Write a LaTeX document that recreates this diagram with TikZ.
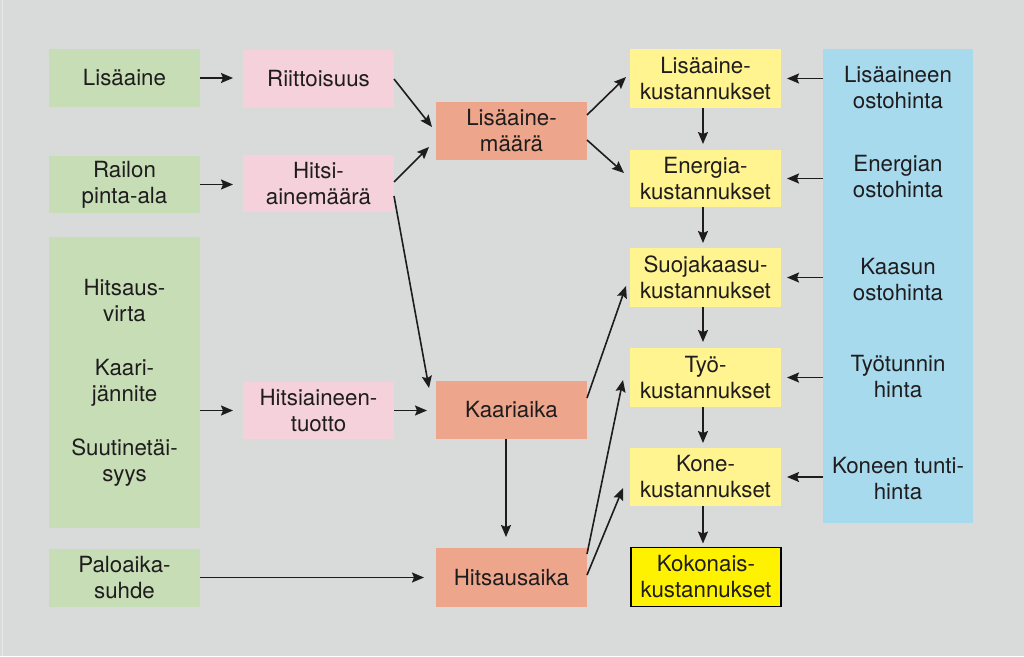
\documentclass[tikz,border=0pt]{standalone}
\usepackage{fontspec}
\setmainfont{TeX Gyre Heros}
\usetikzlibrary{arrows.meta}
\definecolor{bg}{HTML}{D9DBDA}
\definecolor{edge}{HTML}{E6E8E7}
\definecolor{grn}{HTML}{C6DDB6}
\definecolor{pnk}{HTML}{F5D1DC}
\definecolor{sal}{HTML}{EDA58B}
\definecolor{ylw}{HTML}{FFF48F}
\definecolor{ylwb}{HTML}{FFF200}
\definecolor{blu}{HTML}{A8DAEE}
\definecolor{txt}{HTML}{1E1C1D}
\tikzset{
  box/.style={inner sep=0pt, outer sep=0pt, align=center, text=txt,
    font=\fontsize{22.3}{26}\selectfont, minimum width=151pt},
  gbox/.style={box, fill=grn},
  pbox/.style={box, fill=pnk},
  sbox/.style={box, fill=sal},
  ybox/.style={box, fill=ylw},
  lbl/.style={inner sep=0pt, align=center, text=txt, font=\fontsize{22.3}{26}\selectfont},
  arr/.style={line width=1.6pt, draw=txt, -{Stealth[length=12pt,width=10pt,inset=2pt]}},
}
\begin{document}
\begin{tikzpicture}[x=1pt,y=-1pt]
\fill[bg] (0,0) rectangle (1024,656);
\useasboundingbox (0,0) rectangle (1024,656);
\draw[edge, line width=1pt] (2.5,0) -- (2.5,656);

% left column
\node[gbox, minimum height=58pt] (g1) at (124.5,78) {Lisäaine};
\node[gbox, minimum height=57pt] (g2) at (124.5,184.5) {Railon\\pinta-ala};
\node[gbox, minimum height=291pt] (g3) at (124.5,382.5) {Hitsaus-\\virta\\[28pt]Kaari-\\jännite\\[28pt]Suutinetäi-\\syys};
\node[gbox, minimum height=58pt] (g4) at (124.5,578) {Paloaika-\\suhde};

% pink column
\node[pbox, minimum height=58pt] (p1) at (318.5,79) {Riittoisuus};
\node[pbox, minimum height=57pt] (p2) at (318.5,183.5) {Hitsi-\\ainemäärä};
\node[pbox, minimum height=57pt] (p3) at (318.5,410.5) {Hitsiaineen-\\tuotto};

% salmon column
\node[sbox, minimum height=58pt] (s1) at (511.5,131) {Lisäaine-\\määrä};
\node[sbox, minimum height=58pt] (s2) at (511.5,410) {Kaariaika};
\node[sbox, minimum height=59pt] (s3) at (511.5,577.5) {Hitsausaika};

% yellow column
\node[ybox, minimum height=59pt] (y1) at (705.5,78.5) {Lisäaine-\\kustannukset};
\node[ybox, minimum height=57pt] (y2) at (705.5,178.5) {Energia-\\kustannukset};
\node[ybox, minimum height=59pt] (y3) at (705.5,277.5) {Suojakaasu-\\kustannukset};
\node[ybox, minimum height=59pt] (y4) at (705.5,377.5) {Työ-\\kustannukset};
\node[ybox, minimum height=58pt] (y5) at (705.5,477) {Kone-\\kustannukset};
\node[box, fill=ylwb, draw=black, line width=1.6pt, minimum width=150pt, minimum height=59pt] (k) at (706,577) {Kokonais-\\kustannukset};

% blue column
\node[box, fill=blu, minimum width=150pt, minimum height=474pt] (b) at (898,286) {};
\node[lbl] (b1) at (898,88) {Lisäaineen\\ostohinta};
\node[lbl] (b2) at (898,177) {Energian\\ostohinta};
\node[lbl] (b3) at (898,280) {Kaasun\\ostohinta};
\node[lbl] (b4) at (898,376.5) {Työtunnin\\hinta};
\node[lbl] (b5) at (898,478.5) {Koneen tunti-\\hinta};

% arrows left -> pink
\draw[arr, shorten >=10pt] (g1.east) -- (g1.east -| p1.west);
\draw[arr, shorten >=10pt] (g2.east) -- (g2.east -| p2.west);
\draw[arr, shorten >=10pt] (g3.east |- p3.west) -- (p3.west);
\draw[arr, shorten >=12pt] (g4.east |- s3.west) -- (s3.west);

% pink -> salmon
\draw[arr] (p1.east) -- ([xshift=-4pt,yshift=4pt]s1.west);
\draw[arr] ([yshift=1.5pt]p2.east) -- ([xshift=-7pt,yshift=-16pt]s1.west);
\draw[arr] ([yshift=-12.5pt]p2.east) -- ([xshift=-7pt,yshift=22pt]s2.west);
\draw[arr, shorten >=9pt] (p3.east) -- (p3.east -| s2.west);
\draw[arr, shorten >=11pt] ([xshift=-5.5pt]s2.south) -- ([xshift=-5.5pt]s3.north);

% salmon -> yellow
\draw[arr] ([yshift=16pt]s1.east) -- ([xshift=-4pt,yshift=1.5pt]y1.west);
\draw[arr] ([yshift=-9pt]s1.east) -- ([xshift=-6pt,yshift=5.5pt]y2.west);
\draw[arr] ([yshift=12pt]s2.east) -- ([xshift=-4pt,yshift=-8.5pt]y3.west);
\draw[arr] ([yshift=23.5pt]s3.east) -- ([xshift=-7pt,yshift=-2.5pt]y4.west);
\draw[arr] ([yshift=2.5pt]s3.east) -- ([xshift=-7pt,yshift=-11pt]y5.west);

% yellow vertical chain
\draw[arr, shorten >=6pt] ([xshift=-2.5pt]y1.south) -- ([xshift=-2.5pt]y2.north);
\draw[arr, shorten >=5pt] ([xshift=-2.5pt]y2.south) -- ([xshift=-2.5pt]y3.north);
\draw[arr, shorten >=6pt] ([xshift=-2.5pt]y3.south) -- ([xshift=-2.5pt]y4.north);
\draw[arr, shorten >=5pt] ([xshift=-2.5pt]y4.south) -- ([xshift=-2.5pt]y5.north);
\draw[arr, shorten >=4pt] ([xshift=-2.5pt]y5.south) -- ([xshift=-3pt]k.north);

% blue -> yellow
\draw[arr, shorten >=6pt] (b.west |- y1.east) -- (y1.east);
\draw[arr, shorten >=6pt] (b.west |- y2.east) -- (y2.east);
\draw[arr, shorten >=6pt] (b.west |- y3.east) -- (y3.east);
\draw[arr, shorten >=6pt] (b.west |- y4.east) -- (y4.east);
\draw[arr, shorten >=6pt] (b.west |- y5.east) -- (y5.east);
\end{tikzpicture}
\end{document}
